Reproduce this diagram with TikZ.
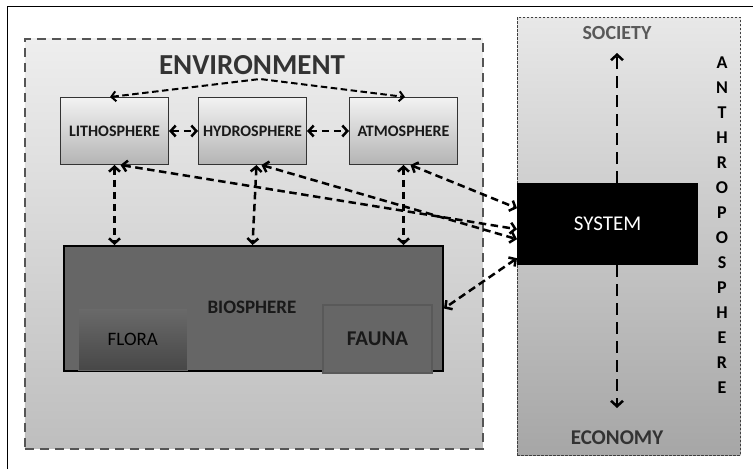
\documentclass[tikz,border=0pt]{standalone}
\usepackage{fontspec}
\setmainfont{Carlito}
\usetikzlibrary{arrows.meta}
\definecolor{envtop}{HTML}{EEEEEE}
\definecolor{envbot}{HTML}{BEBEBE}
\definecolor{anttop}{HTML}{E8E8E8}
\definecolor{antbot}{HTML}{A6A6A6}
\definecolor{sphtop}{HTML}{F2F2F2}
\definecolor{sphbot}{HTML}{B4B4B4}
\definecolor{biofill}{HTML}{666666}
\definecolor{floratop}{HTML}{6A6A6A}
\definecolor{florabot}{HTML}{474747}
\definecolor{dashgray}{HTML}{555555}
\begin{document}
\begin{tikzpicture}[x=1pt,y=-1pt,
  dasharrow/.style={line width=2.5pt, dash pattern=on 7.5pt off 4.5pt, {Straight Barb[length=5pt,width=11pt]}-{Straight Barb[length=5pt,width=11pt]}},
  onearrow/.style={line width=2.5pt, dash pattern=on 12pt off 7pt, -{Straight Barb[length=5.5pt,width=12pt]}},
  toparrow/.style={line width=2pt, dash pattern=on 6.5pt off 3.5pt, {Straight Barb[length=4.5pt,width=10pt]}-{Straight Barb[length=4.5pt,width=10pt]}},
  spherebox/.style={draw=black!80, line width=1pt, top color=sphtop, bottom color=sphbot, minimum width=108, minimum height=67, anchor=north west, inner sep=0pt, font=\fontsize{16}{18}\selectfont\bfseries, text=black!90},
  bigbox/.style={anchor=north west, inner sep=0pt},
  anthroletter/.style={font=\fontsize{18}{20}\selectfont\bfseries, inner sep=0pt}
]
\useasboundingbox (0,0) rectangle (753,469);
% outer frame (left and top lines)
\coordinate (fl) at (7,469);
\coordinate (fc) at (7,6);
\coordinate (fr) at (753,6);
\draw[line width=1pt] (fl) -- (fc) -- (fr);

% environment box
\node[bigbox, draw=dashgray, line width=1.6pt, dash pattern=on 9pt off 6pt, top color=envtop, bottom color=envbot, minimum width=458, minimum height=410] (env) at (24,38) {};
\node[font=\fontsize{29}{31}\selectfont\bfseries, text=black!80] (envlabel) at (252,65) {ENVIRONMENT};

% anthroposphere box
\node[bigbox, draw=black!75, line width=0.9pt, dash pattern=on 2.5pt off 1.5pt, top color=anttop, bottom color=antbot, minimum width=223, minimum height=438] (anthro) at (517,17) {};
\node[font=\fontsize{20}{22}\selectfont\bfseries, text=black!65] (society) at (617,33) {SOCIETY};
\node[font=\fontsize{21}{23}\selectfont\bfseries, text=black!80] (economy) at (617,438) {ECONOMY};
\foreach \l [count=\i from 0] in {A,N,T,H,R,O,P,O,S,P,H,E,R,E}
  \node[anthroletter] (an\i) at (722,63+25*\i) {\l};

% spheres
\node[spherebox] (litho) at (60,97) {LITHOSPHERE};
\node[spherebox] (hydro) at (198,97) {HYDROSPHERE};
\node[spherebox] (atmo) at (349,97) {ATMOSPHERE};

% biosphere
\node[bigbox, draw=black, line width=2pt, fill=biofill, minimum width=379, minimum height=125] (bio) at (63,245) {};
\node[font=\fontsize{19}{21}\selectfont\bfseries, text=black!90] (biolabel) at (252,307) {BIOSPHERE};
\node[bigbox, draw=black!60, line width=0.6pt, top color=floratop, bottom color=florabot, minimum width=109, minimum height=62] (flora) at (78,308) {};
\node[font=\fontsize{19}{21}\selectfont, text=black] (floralabel) at (flora.center) {FLORA};
\node[bigbox, draw=black!65, line width=2pt, fill=biofill, minimum width=109, minimum height=68] (fauna) at (322,304) {};
\node[font=\fontsize{21}{23}\selectfont\bfseries, text=black!90] (faunalabel) at (fauna.center) {FAUNA};

% system
\node[bigbox, fill=black, minimum width=181, minimum height=82] (sys) at (517,183) {};
\node[font=\fontsize{21}{23}\selectfont, text=white] (syslabel) at (sys.center) {SYSTEM};

% top arrow
\coordinate (apex) at (260,79);
\draw[toparrow] ([xshift=50pt]litho.north west) -- (apex) -- ([xshift=56pt]atmo.north west);

% horizontal arrows between spheres
\draw[dasharrow] (litho.east) -- (hydro.west);
\draw[dasharrow] (hydro.east) -- (atmo.west);

% vertical arrows to biosphere
\draw[dasharrow] (litho.south) -- (litho.south |- bio.north);
\draw[dasharrow] ([xshift=4pt]hydro.south) -- (hydro.south |- bio.north);
\draw[dasharrow] (atmo.south) -- (atmo.south |- bio.north);

% diagonal arrows to system
\draw[dasharrow] ([xshift=6pt]litho.south) -- ([yshift=-5pt]sys.west);
\draw[dasharrow] ([xshift=9pt]hydro.south) -- ([yshift=-15pt]sys.west);
\draw[dasharrow] ([xshift=7pt]atmo.south) -- ([yshift=16pt]sys.west);
\draw[dasharrow] ([yshift=-34pt]sys.west) -- (bio.east);

% society / economy arrows
\coordinate (soctip) at (617,53);
\coordinate (ecotip) at (617,408);
\draw[onearrow] (sys.north -| soctip) -- (soctip);
\draw[onearrow] (sys.south -| ecotip) -- (ecotip);
\end{tikzpicture}
\end{document}
